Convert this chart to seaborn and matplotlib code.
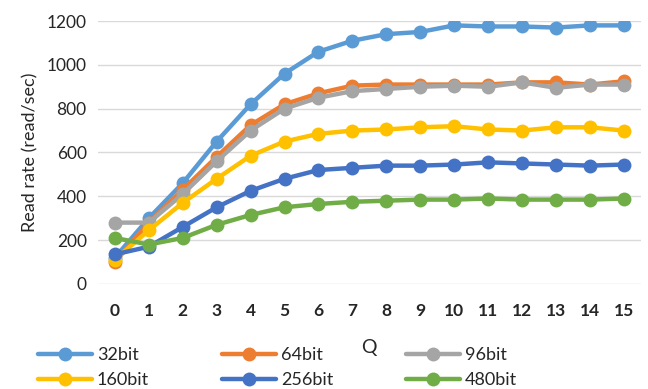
import numpy as np
import pandas as pd
from matplotlib import pyplot as plt
import seaborn as sns

q = list(range(16))
series_names = ["32bit", "64bit", "96bit", "160bit", "256bit", "480bit"]
r32 = [120, 300, 460, 650, 820, 960, 1060, 1110, 1140, 1150, 1180, 1175, 1175, 1170, 1180, 1180]
r64 = [100, 280, 430, 580, 725, 820, 870, 905, 910, 910, 910, 910, 920, 920, 910, 925]
r96 = [280, 280, 410, 560, 700, 800, 850, 880, 890, 900, 905, 900, 920, 895, 910, 910]
r160 = [110, 245, 370, 480, 585, 650, 685, 700, 705, 715, 720, 705, 700, 715, 715, 700]
r256 = [135, 170, 260, 350, 425, 480, 520, 530, 540, 540, 545, 555, 550, 545, 540, 545]
r480 = [210, 180, 210, 270, 315, 350, 365, 375, 380, 385, 385, 390, 385, 385, 385, 390]
colors = ["#5B9BD5", "#ED7D31", "#A5A5A5", "#FFC000", "#4472C4", "#70AD47"]

df = pd.DataFrame({"Q": q * 6,
                   "rate": r32 + r64 + r96 + r160 + r256 + r480,
                   "series": np.repeat(series_names, 16)})

sns.set_style("white")
plt.rcParams['font.family'] = ['Lato', 'DejaVu Sans']

fig = plt.figure(figsize=(6.48, 3.89), dpi=100)
ax = fig.add_axes([0.151, 0.27, 0.838, 0.676])

for name, c in zip(series_names, colors):
    sub = df[df.series == name]
    sns.lineplot(data=sub, x="Q", y="rate", color=c, marker="o", markersize=10,
                 markeredgewidth=0, linewidth=3.2, label=name, ax=ax)

ax.set_xlim(-0.5, 15.5)
ax.set_ylim(0, 1200)
ax.set_xticks(q)
ax.set_xticklabels([str(v) for v in q], fontweight="bold", fontsize=12.5)
ax.set_yticks(range(0, 1201, 200))
ax.tick_params(axis="y", labelsize=12.5, length=0, pad=8)
ax.tick_params(axis="x", length=0, pad=14)
ax.grid(axis="y", color="#D9D9D9", linewidth=1)
ax.set_axisbelow(True)
for s in ax.spines.values():
    s.set_visible(False)
ax.set_xlabel("Q", fontsize=14, labelpad=14)
ax.set_ylabel("Read rate (read/sec)", fontsize=13, labelpad=6)

handles, labels = ax.get_legend_handles_labels()
order = [0, 3, 1, 4, 2, 5]
ax.legend([handles[i] for i in order], [labels[i] for i in order], ncol=3,
          loc="upper left", bbox_to_anchor=(-0.11, -0.24), frameon=False,
          fontsize=13, handlelength=3.0, handletextpad=0.25, columnspacing=4.05,
          labelspacing=0.5, borderaxespad=0, borderpad=0)

plt.savefig("out.png", dpi=100)
